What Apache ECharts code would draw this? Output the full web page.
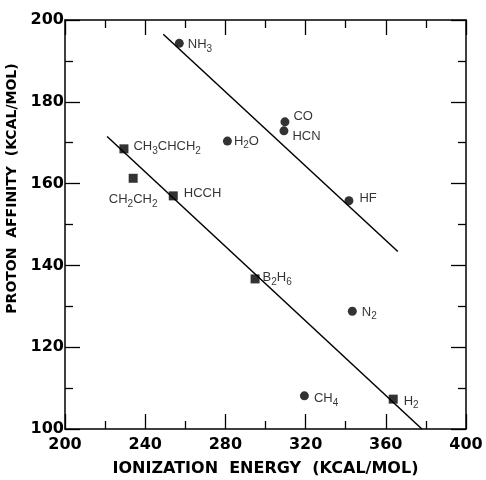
<!DOCTYPE html>
<html>
<head>
<meta charset="utf-8">
<script src="https://cdn.jsdelivr.net/npm/echarts@6/dist/echarts.min.js"></script>
<style>
  html, body { margin: 0; padding: 0; background: #fff; }
  #chart { width: 486px; height: 480px; }
</style>
</head>
<body>
<div id="chart"></div>
<script>
// points plotted as circles
const circleNames = ['NH3', 'CO', 'HCN', 'H2O', 'HF', 'N2', 'CH4'];
const circleX = [257, 309.7, 309.2, 281, 341.6, 343.3, 319.4];
const circleY = [194.3, 175.1, 172.9, 170.4, 155.8, 128.8, 108.1];

// points plotted as squares
const squareNames = ['CH3CHCH2', 'CH2CH2', 'HCCH', 'B2H6', 'H2'];
const squareX = [229.4, 234, 254, 294.8, 363.7];
const squareY = [168.5, 161.3, 157, 136.7, 107.3];

// the two straight fit lines (end points)
const upperFitX = [249, 366];
const upperFitY = [196.5, 143.4];
const lowerFitX = [221, 378];
const lowerFitY = [171.5, 100];

// tick labels
const xTickLabels = [200, 240, 280, 320, 360, 400];
const yTickLabels = [100, 120, 140, 160, 180, 200];

// where each point's label sits
const labelPlace = {
  NH3: { position: 'right', distance: 4, offset: [0, 1] },
  CO: { position: 'right', distance: 4, offset: [0, -5] },
  HCN: { position: 'right', distance: 4, offset: [0, 6] },
  H2O: { position: 'right', distance: 2, offset: [0, 0] },
  HF: { position: 'right', distance: 6, offset: [0, -2] },
  N2: { position: 'right', distance: 5, offset: [0, 1] },
  CH4: { position: 'right', distance: 5, offset: [0, 3] },
  CH3CHCH2: { position: 'right', distance: 5, offset: [0, -2] },
  CH2CH2: { position: 'bottom', distance: 7, offset: [0, 0] },
  HCCH: { position: 'right', distance: 6, offset: [0, -2] },
  B2H6: { position: 'right', distance: 3, offset: [0, -1] },
  H2: { position: 'right', distance: 6, offset: [0, 2] }
};

const FONT = '"Liberation Sans", Arial, sans-serif';
const AXIS_FONT = '"DejaVu Sans", sans-serif';

const pointData = (names, xs, ys) => names.map((n, i) => ({
  name: n,
  value: [xs[i], ys[i]],
  label: labelPlace[n]
}));

const lineData = (xs, ys) => xs.map((x, i) => [x, ys[i]]);

// chemical formula: digits become subscripts
const pointLabel = {
  show: true,
  color: '#000',
  fontFamily: FONT,
  fontSize: 13,
  formatter: p => p.name.split(/(\d)/).filter(t => t).map(t => /\d/.test(t) ? '{s|' + t + '}' : '{n|' + t + '}').join(''),
  rich: {
    n: { fontSize: 13, fontFamily: FONT, color: '#000', lineHeight: 19, verticalAlign: 'middle' },
    s: { fontSize: 10, fontFamily: FONT, color: '#000', lineHeight: 19, verticalAlign: 'bottom' }
  }
};

const axisLineStyle = { show: true, onZero: false, lineStyle: { color: '#000', width: 1.5 } };

function makeX(pos, showLabel) {
  return {
    type: 'value',
    position: pos,
    min: xTickLabels[0],
    max: xTickLabels[xTickLabels.length - 1],
    interval: xTickLabels[1] - xTickLabels[0],
    axisLine: axisLineStyle,
    axisTick: { show: true, inside: true, length: 15, lineStyle: { color: '#000', width: 1.3 } },
    minorTick: { show: true, splitNumber: 2, length: 8, lineStyle: { color: '#000', width: 1.3 } },
    splitLine: { show: false },
    axisLabel: {
      show: showLabel, color: '#000', fontFamily: AXIS_FONT, fontSize: 16, fontWeight: 'bold', margin: 8
    },
    name: showLabel ? 'IONIZATION  ENERGY  (KCAL/MOL)' : '',
    nameLocation: 'middle',
    nameGap: 32,
    nameTextStyle: { color: '#000', fontFamily: AXIS_FONT, fontSize: 16, fontWeight: 'bold' }
  };
}

function makeY(pos, showLabel) {
  return {
    type: 'value',
    position: pos,
    min: yTickLabels[0],
    max: yTickLabels[yTickLabels.length - 1],
    interval: yTickLabels[1] - yTickLabels[0],
    axisLine: axisLineStyle,
    axisTick: { show: true, inside: true, length: 15, lineStyle: { color: '#000', width: 1.3 } },
    minorTick: { show: true, splitNumber: 2, length: 8, lineStyle: { color: '#000', width: 1.3 } },
    splitLine: { show: false },
    axisLabel: {
      show: showLabel, color: '#000', fontFamily: AXIS_FONT, fontSize: 16, fontWeight: 'bold', margin: 1
    },
    name: showLabel ? 'PROTON  AFFINITY  (KCAL/MOL)' : '',
    nameLocation: 'middle',
    nameGap: 41,
    nameRotate: 90,
    nameTextStyle: {
      color: '#000', fontFamily: AXIS_FONT, fontSize: 14, fontWeight: 'bold',
      padding: [0, 0, 0, 72]
    }
  };
}

const chart = echarts.init(document.getElementById('chart'), null, { renderer: 'canvas' });

const option = {
  animation: false,
  backgroundColor: '#fff',
  grid: { left: 65, right: 20, top: 20, bottom: 51, outerBoundsMode: 'none', containLabel: false },
  xAxis: [makeX('bottom', true), makeX('top', false)],
  yAxis: [makeY('left', true), makeY('right', false)],
  series: [
    {
      name: 'upper fit',
      type: 'line',
      data: lineData(upperFitX, upperFitY),
      showSymbol: false,
      lineStyle: { color: '#000', width: 1.5 },
      z: 2
    },
    {
      name: 'lower fit',
      type: 'line',
      data: lineData(lowerFitX, lowerFitY),
      showSymbol: false,
      lineStyle: { color: '#000', width: 1.5 },
      z: 2
    },
    {
      name: 'circles',
      type: 'scatter',
      symbol: 'circle',
      symbolSize: 9,
      itemStyle: { color: '#000' },
      data: pointData(circleNames, circleX, circleY),
      label: pointLabel,
      z: 3
    },
    {
      name: 'squares',
      type: 'scatter',
      symbol: 'rect',
      symbolSize: 9,
      itemStyle: { color: '#000' },
      data: pointData(squareNames, squareX, squareY),
      label: pointLabel,
      z: 3
    }
  ]
};

chart.setOption(option);
</script>
</body>
</html>
